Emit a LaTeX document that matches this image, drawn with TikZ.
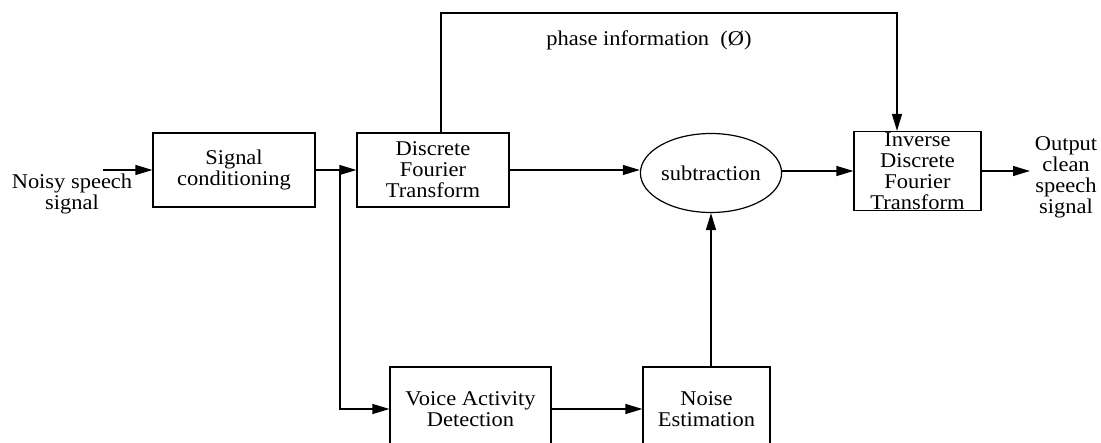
\documentclass[tikz,border=0pt]{standalone}
\usepackage{fontspec}
\setmainfont{Liberation Serif}[FakeStretch=1.07]
\usetikzlibrary{arrows.meta,shapes.geometric}
\tikzset{
  blk/.style={draw,line width=1.2pt,align=center,inner sep=0pt},
  lbl/.style={align=center,inner sep=0pt},
  conn/.style={line width=1.2pt,-{Triangle[length=17pt,width=10pt]}},
}
\begin{document}
\begin{tikzpicture}[x=1pt,y=-1pt,font=\fontsize{21}{21}\selectfont]
\useasboundingbox (0,0) rectangle (1101,443);
\clip (0,0) rectangle (1101,443);
% blocks
\node[blk,minimum width=162pt,minimum height=74pt] (sc) at (234,170) {Signal\\conditioning};
\node[blk,minimum width=152pt,minimum height=74pt] (dft) at (433,170) {Discrete\\Fourier\\Transform};
\node[blk,ellipse,minimum width=119pt,minimum height=79pt] (sub) at (711,173) {subtraction};
\node[blk,minimum width=127pt,minimum height=79pt] (idft) at (917.5,171) {Inverse\\Discrete\\Fourier\\Transform};
\node[blk,minimum width=161pt,minimum height=84pt] (vad) at (470.5,409) {Voice Activity\\Detection};
\node[blk,minimum width=127pt,minimum height=84pt] (ne) at (706.5,409) {Noise\\Estimation};
% labels
\node[lbl] (inl) at (72,194) {Noisy speech\\signal};
\node[lbl] (outl) at (1066,177) {Output\\clean\\speech\\signal};
\node[lbl] (phl) at (649,40) {phase information\ \ (Ø)};
% coordinates
\coordinate (in) at (103,170);
\coordinate (out) at (1030,171);
\coordinate (br) at (340,170);
\coordinate (p1) at (441,13);
\coordinate (p2) at (897,13);
% connectors
\draw[conn] (in) -- (sc.west);
\draw[conn] (sc.east) -- (dft.west);
\draw[conn] (br) |- (vad.west);
\draw[conn] (vad.east) -- (ne.west);
\draw[conn] (sub.south |- ne.north) -- (sub.south);
\draw[conn] (dft.east) -- (dft.east -| sub.west);
\draw[conn] (sub.east |- idft.west) -- (idft.west);
\draw[conn] (idft.east) -- (out);
\draw[conn] (p1 |- dft.north) -- (p1) -- (p2) -- (p2 |- idft.north);
\end{tikzpicture}
\end{document}
